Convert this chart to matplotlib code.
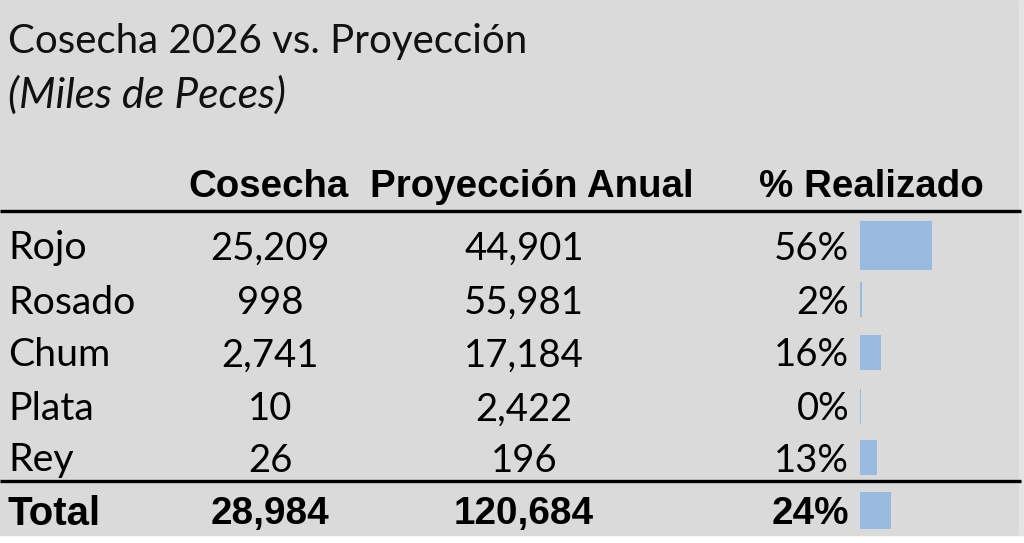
import matplotlib
matplotlib.use("Agg")
import matplotlib.pyplot as plt

# data
especies = ["Rojo", "Rosado", "Chum", "Plata", "Rey"]
cosecha = [25209, 998, 2741, 10, 26]
proyeccion = [44901, 55981, 17184, 2422, 196]
encabezados = ["Cosecha", "Proyección Anual", "% Realizado"]
titulo = "Cosecha 2026 vs. Proyección"
subtitulo = "(Miles de Peces)"

total_cos = sum(cosecha)
total_proy = sum(proyeccion)
pct = [c / p * 100 for c, p in zip(cosecha, proyeccion)]
pct_total = total_cos / total_proy * 100

W, H = 1024, 543
fig = plt.figure(figsize=(W / 100, H / 100), dpi=100)
fig.patch.set_facecolor("white")
ax = fig.add_axes([0, 0, 1, 1])
ax.set_xlim(0, W)
ax.set_ylim(H, 0)
ax.axis("off")

# gray panel (bottom strip stays white)
ax.add_patch(plt.Rectangle((0, 0), 1019, 535, color="#dadada", zorder=0))
ax.add_patch(plt.Rectangle((1019, 0), 5, 535, color="#e4e4e4", zorder=0))

body = "Lato"
head = "Liberation Sans"
fs = 27.5

ax.text(8, 53, titulo, fontsize=29, family=body, va="baseline", color="#111111")
ax.text(8, 108, subtitulo, fontsize=30.5, family=body, style="italic",
        va="baseline", color="#111111")

# header
hy = 197
ax.text(268, hy, encabezados[0], fontsize=27.7, family=head, weight="bold",
        ha="center", va="baseline")
ax.text(532, hy, encabezados[1], fontsize=27.7, family=head, weight="bold",
        ha="center", va="baseline")
ax.text(871, hy, encabezados[2], fontsize=27.7, family=head, weight="bold",
        ha="center", va="baseline")

ax.plot([0, 1021], [211, 211], color="black", lw=2.4, solid_capstyle="butt")
ax.plot([0, 1021], [481, 481], color="black", lw=2.4, solid_capstyle="butt")

row_y = [245, 299, 352, 406, 457]
bar_h = [49, 35, 35, 35, 35]
bar_left = 860
px_per_pct = 1.29
bar_color = "#99bbdf"

for i, name in enumerate(especies):
    y = row_y[i]
    ax.text(8, y, name, fontsize=28.3, family=body, va="center_baseline")
    ax.text(270, y, f"{cosecha[i]:,}", fontsize=fs, family=body,
            ha="center", va="center_baseline")
    ax.text(524, y, f"{proyeccion[i]:,}", fontsize=fs, family=body,
            ha="center", va="center_baseline")
    ax.text(849, y, f"{pct[i]:.0f}%", fontsize=fs, family=body,
            ha="right", va="center_baseline")
    ax.barh(y, max(pct[i] * px_per_pct, 1.2), height=bar_h[i], left=bar_left,
            color=bar_color, zorder=2)

ty = 510
ax.text(8, ty, "Total", fontsize=29, family=head, weight="bold", va="center_baseline")
ax.text(270, ty, f"{total_cos:,}", fontsize=27.8, family=head, weight="bold",
        ha="center", va="center_baseline")
ax.text(524, ty, f"{total_proy:,}", fontsize=27.8, family=head, weight="bold",
        ha="center", va="center_baseline")
ax.text(849, ty, f"{pct_total:.0f}%", fontsize=27.8, family=head, weight="bold",
        ha="right", va="center_baseline")
ax.barh(ty, pct_total * px_per_pct, height=37, left=bar_left, color=bar_color, zorder=2)

fig.savefig("out.png", dpi=100, facecolor=fig.get_facecolor())
